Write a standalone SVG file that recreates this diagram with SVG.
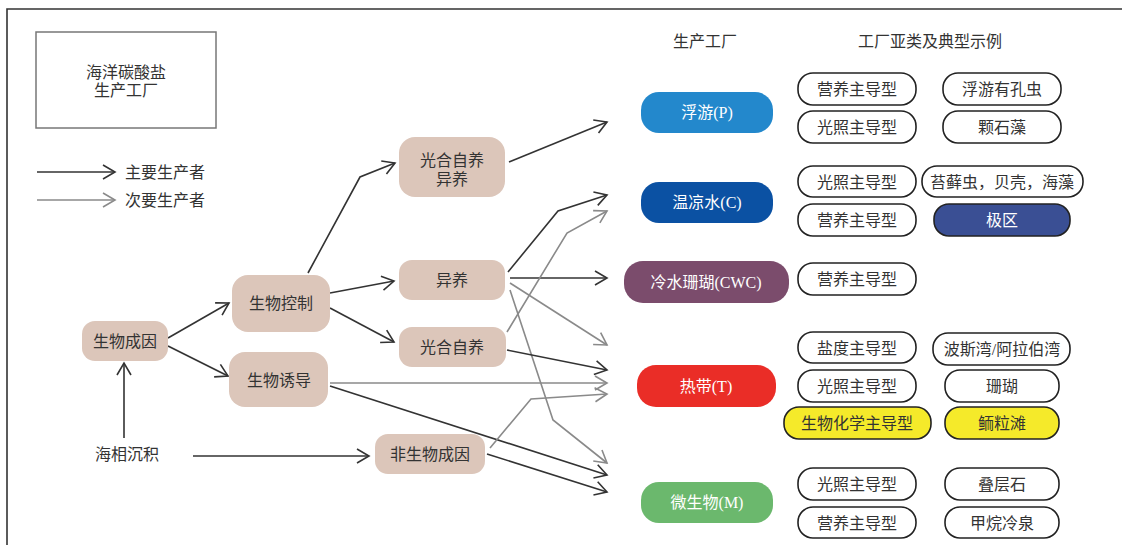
<svg xmlns="http://www.w3.org/2000/svg" width="1122" height="545" viewBox="0 0 1122 545">
<defs>
<style>
text{font-family:"Liberation Serif","Noto Sans CJK SC",serif;font-size:16px;fill:#333;text-anchor:middle;dominant-baseline:central}
.tan{fill:#dcc6ba}
.fac text{fill:#fff}
.sub rect{fill:#fff;stroke:#222;stroke-width:1.6}
.sub rect.y{fill:#f5ea2a}
.sub rect.b{fill:#3a4f94}
.sub text.w{fill:#fff}
.blk{stroke:#333;stroke-width:1.6;fill:none;marker-end:url(#ab)}
.gry{stroke:#8a8a8a;stroke-width:1.6;fill:none;marker-end:url(#ag)}
</style>
<marker id="ab" markerUnits="userSpaceOnUse" markerWidth="16" markerHeight="18" refX="13" refY="8" orient="auto" overflow="visible">
<path d="M1,1 L13,8 L1,15" fill="none" stroke="#333" stroke-width="1.6"/>
</marker>
<marker id="ag" markerUnits="userSpaceOnUse" markerWidth="16" markerHeight="18" refX="13" refY="8" orient="auto" overflow="visible">
<path d="M1,1 L13,8 L1,15" fill="none" stroke="#8a8a8a" stroke-width="1.6"/>
</marker>
</defs>
<rect width="1122" height="545" fill="#fff"/>
<path d="M7,545 V9 H1122" fill="none" stroke="#333" stroke-width="1.6"/>

<g id="title">
<rect x="36" y="32" width="180" height="96" fill="#fff" stroke="#777" stroke-width="1.5"/>
<text x="126" y="72">海洋碳酸盐</text>
<text x="126" y="90">生产工厂</text>
</g>
<g id="legend">
<line x1="37" y1="172" x2="115" y2="172" class="blk"/>
<text x="125" y="172" style="text-anchor:start">主要生产者</text>
<line x1="37" y1="200" x2="115" y2="200" class="gry"/>
<text x="125" y="200" style="text-anchor:start">次要生产者</text>
</g>
<g id="headers">
<text x="705" y="41">生产工厂</text>
<text x="930" y="41">工厂亚类及典型示例</text>
</g>

<g id="connectors">
<line class="blk" x1="168" y1="338" x2="229" y2="303"/>
<line class="blk" x1="168" y1="346" x2="228" y2="376"/>
<line class="blk" x1="124" y1="438" x2="124" y2="363"/>
<line class="blk" x1="193" y1="456" x2="369" y2="456"/>
<polyline class="blk" points="308,273 360,177 395,163"/>
<line class="blk" x1="330" y1="293" x2="394" y2="281"/>
<line class="blk" x1="330" y1="308" x2="394" y2="342"/>
<line class="blk" x1="509" y1="162" x2="607" y2="122"/>
<polyline class="blk" points="508,272 558,211 607,195"/>
<line class="blk" x1="510" y1="278" x2="607" y2="278"/>
<line class="gry" x1="510" y1="283" x2="607" y2="345"/>
<polyline class="gry" points="510,290 553,420 607,463"/>
<polyline class="gry" points="507,332 567,233 607,211"/>
<line class="blk" x1="507" y1="350" x2="607" y2="370"/>
<line class="gry" x1="330" y1="383" x2="607" y2="383"/>
<line class="blk" x1="330" y1="386" x2="607" y2="475"/>
<polyline class="gry" points="490,448 531,399 607,394"/>
<line class="blk" x1="487" y1="454" x2="607" y2="492"/>
</g>

<g id="n-swcy"><rect class="tan" x="82" y="321" width="86" height="40" rx="13"/><text x="125" y="341">生物成因</text></g>
<g id="n-swkz"><rect class="tan" x="232" y="275" width="98" height="57" rx="16"/><text x="281" y="303">生物控制</text></g>
<g id="n-swyd"><rect class="tan" x="229" y="352" width="99" height="55" rx="16"/><text x="279" y="380">生物诱导</text></g>
<g id="n-hxcj"><text x="127" y="454">海相沉积</text></g>
<g id="n-ghyy"><rect class="tan" x="399" y="137" width="106" height="60" rx="16"/><text x="452" y="160">光合自养</text><text x="452" y="179">异养</text></g>
<g id="n-yy"><rect class="tan" x="399" y="260" width="106" height="40" rx="13"/><text x="452" y="280">异养</text></g>
<g id="n-gh"><rect class="tan" x="399" y="327" width="107" height="40" rx="13"/><text x="452" y="347">光合自养</text></g>
<g id="n-fsw"><rect class="tan" x="375" y="434" width="110" height="40" rx="13"/><text x="430" y="454">非生物成因</text></g>

<g id="f-p" class="fac"><rect x="641" y="92" width="132" height="41" rx="18" fill="#2388cc"/><text x="707" y="112">浮游(P)</text></g>
<g id="f-c" class="fac"><rect x="641" y="182" width="132" height="41" rx="18" fill="#0b51a3"/><text x="707" y="202">温凉水(C)</text></g>
<g id="f-cwc" class="fac"><rect x="624" y="261" width="165" height="42" rx="19" fill="#7b4c6c"/><text x="706" y="282">冷水珊瑚(CWC)</text></g>
<g id="f-t" class="fac"><rect x="637" y="365" width="139" height="42" rx="19" fill="#ea2d27"/><text x="706" y="386">热带(T)</text></g>
<g id="f-m" class="fac"><rect x="641" y="482" width="132" height="41" rx="18" fill="#6bb86d"/><text x="707" y="502">微生物(M)</text></g>

<g id="s-p" class="sub">
<rect x="798" y="73" width="118" height="32" rx="15"/><text x="857" y="89">营养主导型</text>
<rect x="798" y="111" width="118" height="32" rx="15"/><text x="857" y="127">光照主导型</text>
<rect x="943" y="73" width="118" height="32" rx="15"/><text x="1002" y="89">浮游有孔虫</text>
<rect x="943" y="111" width="118" height="32" rx="15"/><text x="1002" y="127">颗石藻</text>
</g>
<g id="s-c" class="sub">
<rect x="798" y="166" width="118" height="31" rx="15"/><text x="857" y="182">光照主导型</text>
<rect x="798" y="204" width="118" height="32" rx="15"/><text x="857" y="220">营养主导型</text>
<rect x="922" y="166" width="161" height="31" rx="15"/><text x="1002" y="182">苔藓虫，贝壳，海藻</text>
<rect class="b" x="934" y="204" width="136" height="32" rx="15"/><text class="w" x="1002" y="220">极区</text>
</g>
<g id="s-cwc" class="sub">
<rect x="798" y="263" width="118" height="32" rx="15"/><text x="857" y="279">营养主导型</text>
</g>
<g id="s-t" class="sub">
<rect x="798" y="332" width="118" height="31" rx="15"/><text x="857" y="348">盐度主导型</text>
<rect x="798" y="370" width="118" height="32" rx="15"/><text x="857" y="386">光照主导型</text>
<rect class="y" x="784" y="407" width="147" height="32" rx="15"/><text x="857" y="423">生物化学主导型</text>
<rect x="933" y="333" width="137" height="32" rx="15"/><text x="1002" y="349">波斯湾/阿拉伯湾</text>
<rect x="945" y="370" width="114" height="32" rx="15"/><text x="1002" y="386">珊瑚</text>
<rect class="y" x="945" y="407" width="114" height="32" rx="15"/><text x="1002" y="423">鲕粒滩</text>
</g>
<g id="s-m" class="sub">
<rect x="798" y="468" width="118" height="32" rx="15"/><text x="857" y="484">光照主导型</text>
<rect x="798" y="507" width="118" height="31" rx="15"/><text x="857" y="523">营养主导型</text>
<rect x="945" y="468" width="114" height="32" rx="15"/><text x="1002" y="484">叠层石</text>
<rect x="945" y="507" width="114" height="31" rx="15"/><text x="1002" y="523">甲烷冷泉</text>
</g>
</svg>
